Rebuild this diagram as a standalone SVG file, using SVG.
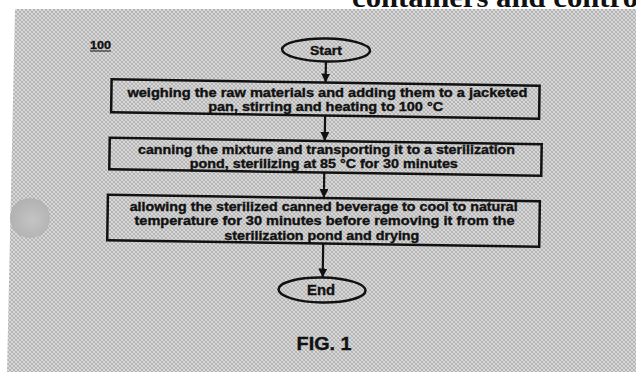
<svg xmlns="http://www.w3.org/2000/svg" width="636" height="372" viewBox="0 0 636 372">
<defs>
<pattern id="tex" width="4" height="4" patternUnits="userSpaceOnUse">
<rect width="4" height="4" fill="#d8d8d8"/>
<rect x="0" y="0" width="1" height="1" fill="#b2b2b2"/>
<rect x="1" y="1" width="1" height="1" fill="#b2b2b2"/>
<rect x="2" y="2" width="1" height="1" fill="#b2b2b2"/>
<rect x="3" y="3" width="1" height="1" fill="#b2b2b2"/>
<rect x="3" y="0" width="1" height="1" fill="#b8b8b8"/>
<rect x="2" y="1" width="1" height="1" fill="#b8b8b8"/>
<rect x="1" y="2" width="1" height="1" fill="#b8b8b8"/>
<rect x="0" y="3" width="1" height="1" fill="#b8b8b8"/>
</pattern>
<radialGradient id="hole" cx="0.55" cy="0.55" r="0.6">
<stop offset="0" stop-color="#c4c4c4"/>
<stop offset="1" stop-color="#b0b0b0"/>
</radialGradient>
<marker id="arr" markerUnits="userSpaceOnUse" markerWidth="9" markerHeight="9" refX="9" refY="4.5" orient="auto">
<path d="M0,0 L9,4.5 L0,9 z" fill="#111"/>
</marker>
<style>
.box{fill:none;stroke:#111;stroke-width:2.5}
.term{fill:none;stroke:#111;stroke-width:2.5}
.t{font-family:"Liberation Sans",Arial,sans-serif;font-weight:bold;fill:#111;stroke:#111;stroke-width:0.35;text-anchor:middle}
.b{font-size:12px}
.conn line{stroke:#111;stroke-width:2.2}
</style>
</defs>
<rect width="636" height="372" fill="#ffffff"/>
<polygon points="15,9 636,9 636,372 7,372" fill="url(#tex)"/>
<text x="352" y="7" font-family="'Liberation Serif',serif" font-weight="bold" font-size="28" fill="#111" textLength="286" lengthAdjust="spacingAndGlyphs">containers and contro</text>
<circle cx="30" cy="218" r="20" fill="url(#hole)"/>
<g id="label100">
<text class="t" x="100.5" y="49" font-size="10.5" textLength="21" lengthAdjust="spacingAndGlyphs">100</text>
<line x1="90" y1="51" x2="111" y2="51" stroke="#111" stroke-width="1"/>
</g>
<g id="start">
<ellipse class="term" cx="324" cy="50" rx="44" ry="11.5" transform="rotate(0.85 325 190)"/>
<text class="t" x="326" y="54.5" font-size="13" textLength="32" lengthAdjust="spacingAndGlyphs">Start</text>
</g>
<g id="step1">
<rect class="box" x="110" y="82.5" width="428" height="33" transform="rotate(0.85 325 190)"/>
<text class="t b" x="327.4" y="97" textLength="400" lengthAdjust="spacingAndGlyphs">weighing the raw materials and adding them to a jacketed</text>
<text class="t b" x="325.7" y="111.2" textLength="235" lengthAdjust="spacingAndGlyphs">pan, stirring and heating to 100 °C</text>
</g>
<g id="step2">
<rect class="box" x="109" y="141" width="432" height="31.5" transform="rotate(0.85 325 190)"/>
<text class="t b" x="326.5" y="154" textLength="377" lengthAdjust="spacingAndGlyphs">canning the mixture and transporting it to a sterilization</text>
<text class="t b" x="323.8" y="168.3" textLength="268" lengthAdjust="spacingAndGlyphs">pond, sterilizing at 85 °C for 30 minutes</text>
</g>
<g id="step3">
<rect class="box" x="108" y="198" width="432" height="45.5" transform="rotate(0.85 325 190)"/>
<text class="t b" x="323.7" y="211" textLength="388" lengthAdjust="spacingAndGlyphs">allowing the sterilized canned beverage to cool to natural</text>
<text class="t b" x="324.5" y="225.3" textLength="380" lengthAdjust="spacingAndGlyphs">temperature for 30 minutes before removing it from the</text>
<text class="t b" x="321.8" y="239.6" textLength="195" lengthAdjust="spacingAndGlyphs">sterilization pond and drying</text>
</g>
<g id="end">
<ellipse class="term" cx="323.5" cy="290" rx="43.5" ry="12.5" transform="rotate(0.85 325 190)"/>
<text class="t" x="321" y="294.5" font-size="14" textLength="28" lengthAdjust="spacingAndGlyphs">End</text>
</g>
<g id="fig">
<text class="t" x="324.1" y="350" font-size="18" textLength="55" lengthAdjust="spacingAndGlyphs">FIG. 1</text>
</g>
<g class="conn" id="connectors" transform="rotate(0.85 325 190)">
<line x1="324" y1="61.5" x2="324" y2="82.5" marker-end="url(#arr)"/>
<line x1="324" y1="115.5" x2="324" y2="141" marker-end="url(#arr)"/>
<line x1="324" y1="172.5" x2="324" y2="198" marker-end="url(#arr)"/>
<line x1="324" y1="243.5" x2="324" y2="277.5" marker-end="url(#arr)"/>
</g>
</svg>
